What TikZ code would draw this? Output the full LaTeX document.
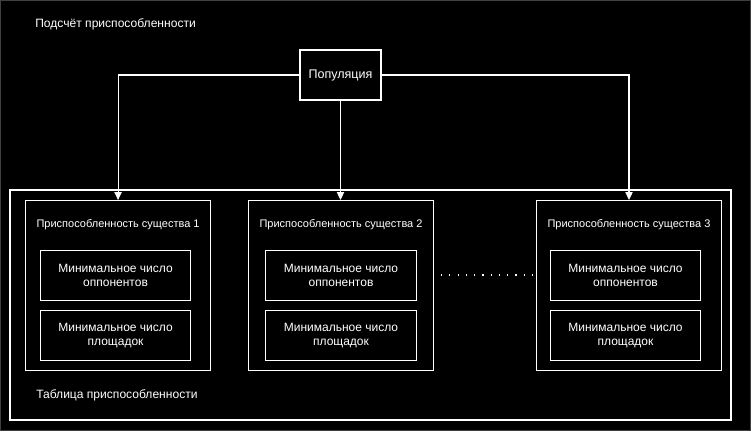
\documentclass[tikz,border=0pt]{standalone}
\usepackage{fontspec}
\setmainfont{Liberation Sans}
\usetikzlibrary{arrows.meta}
\begin{document}
\begin{tikzpicture}[x=0.75pt,y=-0.75pt,
  wbox/.style={draw=white,line width=0.8pt,fill=black},
  smalltxt/.style={text=white,font=\fontsize{8.25}{10}\selectfont,inner sep=0pt},
  lbltxt/.style={text=white,font=\fontsize{9.05}{10}\selectfont,inner sep=0pt},
  innertxt/.style={text=white,font=\fontsize{9}{10.5}\selectfont,align=center,inner sep=0pt},
  conn/.style={draw=white,line width=0.8pt,-{Triangle[width=5.5pt,length=6pt]}}]
\fill[black] (0,0) rectangle (751,431);
\draw[black!75!white,line width=0.5pt] (0.3,0.3) rectangle (750.7,430.7);
\useasboundingbox (0,0) rectangle (751,431);

\node[lbltxt,anchor=west] (title) at (35,24) {Подсчёт приспособленности};

% outer frame
\draw[wbox] (10,190) rectangle (731,420);
\node[lbltxt,anchor=west] (tablelbl) at (36,395) {Таблица приспособленности};

% population
\node[wbox,minimum width=81*0.75pt,minimum height=50*0.75pt,inner sep=0pt] (pop) at (340.5,75) {};
\node[text=white,font=\fontsize{9.4}{10}\selectfont,inner sep=0pt] (poplbl) at (pop) {Популяция};

% creature boxes
\foreach \n/\x/\ix/\iw in {c1/25/40/150, c2/248/265/151, c3/536/550/150}{
  \node[wbox,anchor=north west,minimum width=185*0.75pt,minimum height=170*0.75pt,inner sep=0pt] (\n) at (\x,200) {};
  \node[wbox,anchor=north west,minimum width=\iw*0.75pt,minimum height=50*0.75pt,inner sep=0pt] (\n a) at (\ix,250) {};
  \node[wbox,anchor=north west,minimum width=\iw*0.75pt,minimum height=50*0.75pt,inner sep=0pt] (\n b) at (\ix,310) {};
  \node[innertxt] (\n at) at (\n a) {Минимальное число\\оппонентов};
  \node[innertxt] (\n bt) at (\n b) {Минимальное число\\площадок};
}
\node[smalltxt] (c1t) at ([yshift=-25*0.75pt]c1.north) {Приспособленность существа 1};
\node[smalltxt] (c2t) at ([yshift=-25*0.75pt]c2.north) {Приспособленность существа 2};
\node[smalltxt] (c3t) at ([yshift=-25*0.75pt]c3.north) {Приспособленность существа 3};

% dotted separator
\coordinate (d1) at (441,275);
\coordinate (d2) at (532,275);
\draw[white,line width=1pt,dash pattern=on 0.9pt off 5.3pt] (d1) -- (d2);

% connectors
\draw[conn] (pop.west) -| (c1.north);
\draw[conn] (pop.south) -- (pop.south |- c2.north);
\draw[conn] (pop.east) -| (c3.north);
\end{tikzpicture}
\end{document}
